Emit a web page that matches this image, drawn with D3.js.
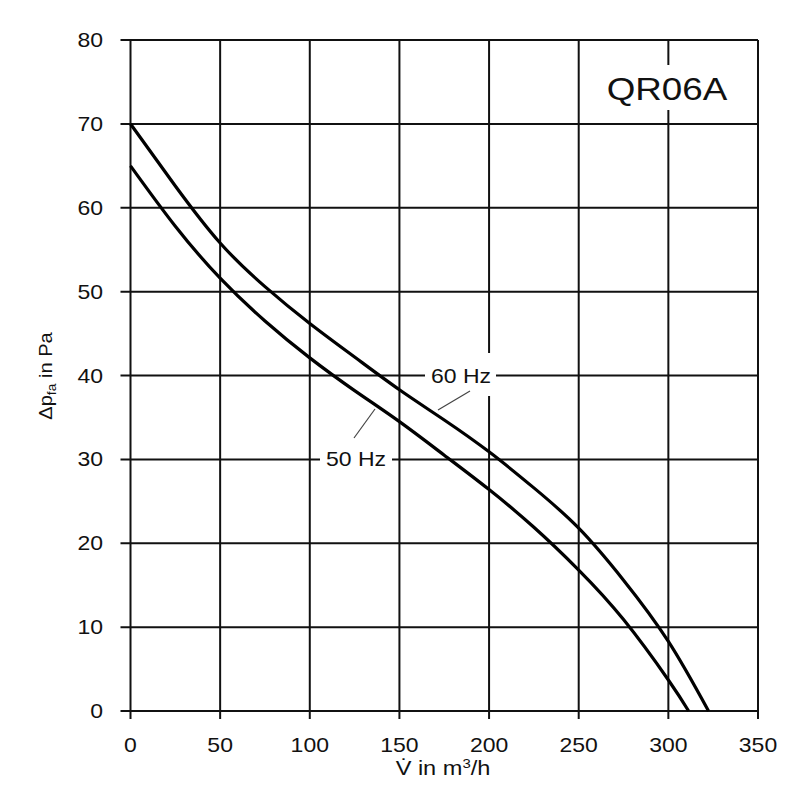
<!DOCTYPE html>
<html><head><meta charset="utf-8">
<script src="https://cdn.jsdelivr.net/npm/d3@7"></script>
<style>body{margin:0;background:#fff;} svg{display:block;font-family:"Liberation Sans",Arial,sans-serif;}</style>
</head><body>
<svg id="c" width="800" height="800"></svg>
<script>
const xTicks = [0,50,100,150,200,250,300,350];
const yTicks = [0,10,20,30,40,50,60,70,80];
const hz60 = [[0,70],[25,62.6],[50,55.8],[75,50.6],[100,46.2],[125,42.2],[150,38.3],[175,34.7],[200,30.9],[225,26.6],[250,21.8],[275,15.6],[300,8.3],[322.4,0]];
const hz50 = [[0,65],[25,57.8],[50,51.6],[75,46.5],[100,42.1],[125,38.2],[150,34.5],[175,30.5],[200,26.4],[225,21.9],[250,16.8],[275,10.9],[300,3.7],[311.3,0]];
const title = "QR06A";
const labels = [
  {text:"60 Hz", tx:461, ty:376, box:[425,353,496,396], lead:[[470,391],[438,410]]},
  {text:"50 Hz", tx:356, ty:459, box:[320,440,392,478], lead:[[354,438],[375,409]]}
];

const svg = d3.select("#c");
const x = d3.scaleLinear().domain([0,350]).range([130.5,758]);
const y = d3.scaleLinear().domain([0,80]).range([711,40]);
const ink = "#111";
const SX = 1.15;
function txt(px, py, size, anchor){
  return svg.append("text").attr("transform",`translate(${px},${py}) scale(${SX},1)`)
    .attr("text-anchor",anchor).attr("font-size",size).attr("fill",ink);
}

// grid
const g = svg.append("g");
g.selectAll(".vg").data(xTicks).join("line")
  .attr("x1",d=>x(d)).attr("x2",d=>x(d)).attr("y1",y(80)).attr("y2",y(0)+8)
  .attr("stroke",ink).attr("stroke-width",2);
g.selectAll(".hg").data(yTicks).join("line")
  .attr("y1",d=>y(d)).attr("y2",d=>y(d)).attr("x1",x(0)-10).attr("x2",x(350))
  .attr("stroke",ink).attr("stroke-width",2);

// tick labels
xTicks.forEach(d=>txt(x(d),752,20,"middle").text(d));
yTicks.forEach(d=>txt(103,y(d)+7,20,"end").text(d));

// white boxes behind annotations
svg.append("rect").attr("x",600).attr("y",65).attr("width",135).attr("height",45).attr("fill","#fff");
labels.forEach(l=>{
  svg.append("rect").attr("x",l.box[0]).attr("y",l.box[1]).attr("width",l.box[2]-l.box[0]).attr("height",l.box[3]-l.box[1]).attr("fill","#fff");
});

// curves
const line = d3.line().x(d=>x(d[0])).y(d=>y(d[1])).curve(d3.curveNatural);
[hz60,hz50].forEach(s=>{
  svg.append("path").attr("d",line(s)).attr("fill","none").attr("stroke","#000").attr("stroke-width",3.2);
});

// labels
labels.forEach(l=>{
  txt(l.tx,l.ty+7,20,"middle").text(l.text);
  svg.append("line").attr("x1",l.lead[0][0]).attr("y1",l.lead[0][1]).attr("x2",l.lead[1][0]).attr("y2",l.lead[1][1])
    .attr("stroke","#444").attr("stroke-width",1.2);
});

txt(667,100,32,"middle").text(title);

// axis titles
const xt = txt(443,775,20.5,"middle");
xt.append("tspan").text("V\u0307 in m");
xt.append("tspan").attr("font-size",13).attr("dy",-7).text("3");
xt.append("tspan").attr("dy",7).text("/h");

const yt = svg.append("text").attr("transform",`translate(52,376) rotate(-90) scale(${SX},1)`).attr("text-anchor","middle").attr("font-size",17.5).attr("fill",ink);
yt.append("tspan").text("\u0394p");
yt.append("tspan").attr("font-size",12).attr("dy",4).text("fa");
yt.append("tspan").attr("dy",-4).text(" in Pa");
</script>
</body></html>
